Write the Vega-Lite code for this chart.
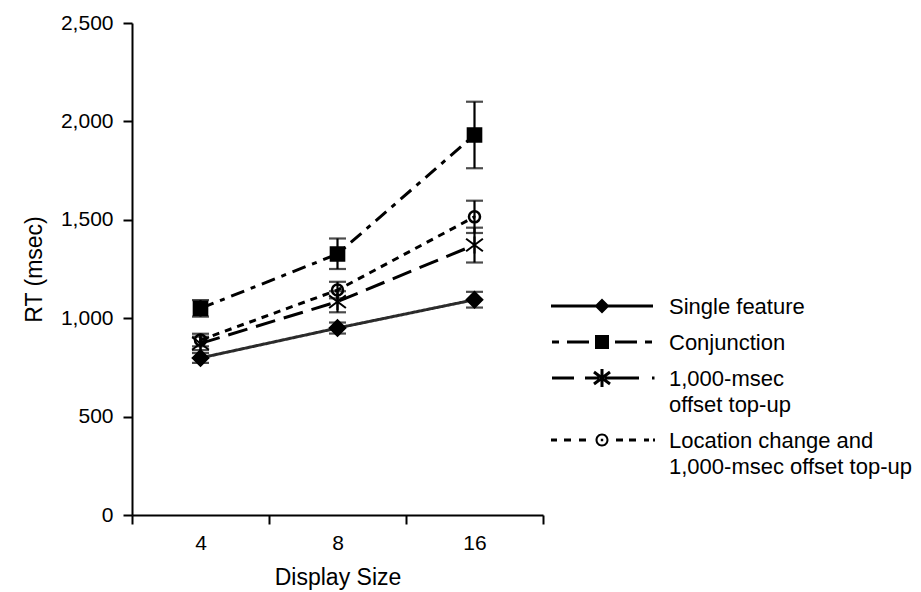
{
  "$schema": "https://vega.github.io/schema/vega-lite/v6.json",
  "width": 411,
  "height": 492,
  "autosize": {"type": "none"},
  "padding": {"left": 132, "top": 23, "right": 378, "bottom": 77},
  "background": "white",
  "config": {
    "view": {"stroke": null},
    "font": "Liberation Sans",
    "style": {"guide-label": {"lineHeight": 26}}
  },
  "data": {
    "values": [
      {"series": "Single feature", "size": "4", "rt": 798, "lo": 773, "hi": 823},
      {"series": "Single feature", "size": "8", "rt": 950, "lo": 922, "hi": 978},
      {"series": "Single feature", "size": "16", "rt": 1094, "lo": 1054, "hi": 1134},
      {"series": "Conjunction", "size": "4", "rt": 1050, "lo": 1008, "hi": 1092},
      {"series": "Conjunction", "size": "8", "rt": 1326, "lo": 1250, "hi": 1405},
      {"series": "Conjunction", "size": "16", "rt": 1931, "lo": 1762, "hi": 2100},
      {"series": "1,000-msec offset top-up", "size": "4", "rt": 872, "lo": 838, "hi": 906},
      {"series": "1,000-msec offset top-up", "size": "8", "rt": 1084, "lo": 1030, "hi": 1137},
      {"series": "1,000-msec offset top-up", "size": "16", "rt": 1372, "lo": 1283, "hi": 1460},
      {"series": "Location change and 1,000-msec offset top-up", "size": "4", "rt": 889, "lo": 857, "hi": 921},
      {"series": "Location change and 1,000-msec offset top-up", "size": "8", "rt": 1143, "lo": 1101, "hi": 1185},
      {"series": "Location change and 1,000-msec offset top-up", "size": "16", "rt": 1515, "lo": 1433, "hi": 1597}
    ]
  },
  "encoding": {
    "x": {
      "field": "size",
      "type": "ordinal",
      "sort": ["4", "8", "16"],
      "scale": {"type": "band", "paddingInner": 0, "paddingOuter": 0},
      "axis": {
        "title": "Display Size",
        "tickBand": "extent",
        "tickSize": 9,
        "tickWidth": 2,
        "tickColor": "black",
        "domainColor": "black",
        "domainWidth": 2,
        "labelAngle": 0,
        "labelFontSize": 21,
        "labelColor": "black",
        "labelPadding": 8,
        "titleFontSize": 23,
        "titleFontWeight": "normal",
        "titleColor": "black",
        "titlePadding": 13
      }
    },
    "y": {
      "field": "rt",
      "type": "quantitative",
      "scale": {"domain": [0, 2500], "nice": false, "zero": true},
      "axis": {
        "title": "RT (msec)",
        "values": [0, 500, 1000, 1500, 2000, 2500],
        "format": ",d",
        "grid": false,
        "tickSize": 9,
        "tickWidth": 2,
        "tickColor": "black",
        "domainColor": "black",
        "domainWidth": 2,
        "labelFontSize": 21,
        "labelColor": "black",
        "labelPadding": 10,
        "titleFontSize": 23,
        "titleFontWeight": "normal",
        "titleColor": "black",
        "titlePadding": 14
      }
    }
  },
  "layer": [
    {
      "mark": {"type": "line", "strokeWidth": 3},
      "encoding": {
        "strokeDash": {
          "field": "series",
          "type": "nominal",
          "scale": {
            "domain": ["Single feature", "Conjunction", "1,000-msec offset top-up", "Location change and 1,000-msec offset top-up"],
            "range": [[1, 0], [14, 7, 5, 7], [20, 9], [7, 6]]
          },
          "legend": null
        },
        "color": {
          "field": "series",
          "type": "nominal",
          "scale": {
            "domain": ["Single feature", "Conjunction", "1,000-msec offset top-up", "Location change and 1,000-msec offset top-up"],
            "range": ["#2b2b2b", "#000000", "#000000", "#000000"]
          },
          "legend": null
        }
      }
    },
    {
      "mark": {"type": "rule", "color": "black", "strokeWidth": 2.2},
      "encoding": {
        "y": {"field": "lo", "type": "quantitative"},
        "y2": {"field": "hi"}
      }
    },
    {
      "mark": {"type": "tick", "orient": "horizontal", "color": "black", "size": 17, "thickness": 2.2},
      "encoding": {"y": {"field": "lo", "type": "quantitative"}}
    },
    {
      "mark": {"type": "tick", "orient": "horizontal", "color": "black", "size": 17, "thickness": 2.2},
      "encoding": {"y": {"field": "hi", "type": "quantitative"}}
    },
    {
      "mark": {"type": "point", "filled": true, "fill": "black", "stroke": "black", "strokeWidth": 2, "size": 440, "opacity": 1},
      "encoding": {
        "shape": {
          "field": "series",
          "type": "nominal",
          "scale": {
            "domain": ["Single feature", "Conjunction", "1,000-msec offset top-up", "Location change and 1,000-msec offset top-up"],
            "range": [
              "M0,-0.75L0.75,0L0,0.75L-0.75,0Z",
              "M-0.65,-0.65H0.65V0.65H-0.65Z",
              "M-0.8,-0.6L0.8,0.6M-0.8,0.6L0.8,-0.6M0,-0.8V0.8",
              "M0.55,0A0.55,0.55 0 1,1 -0.55,0A0.55,0.55 0 1,1 0.55,0ZM0.5,0A0.5,0.5 0 1,0 -0.5,0A0.5,0.5 0 1,0 0.5,0ZM-0.1,0H0.1"
            ]
          },
          "legend": null
        }
      }
    },
    {
      "mark": {"type": "point", "filled": true, "fill": "black", "strokeWidth": 0, "size": 400, "opacity": 0},
      "encoding": {
        "shape": {
          "field": "series",
          "type": "nominal",
          "scale": {
            "domain": ["Single feature", "Conjunction", "1,000-msec offset top-up", "Location change and 1,000-msec offset top-up"],
            "range": [
              "M-5.1,-0.95H5.1V-0.65H-5.1ZM0,-1.55L0.75,-0.8L0,-0.05L-0.75,-0.8Z",
              "M-5,-0.95H-4.3V-0.65H-5ZM-3.5,-0.95H-1.3V-0.65H-3.5ZM1.3,-0.95H3.5V-0.65H1.3ZM4.3,-0.95H5V-0.65H4.3ZM-0.7,-1.5H0.7V-0.1H-0.7Z",
              "M-5,-0.95H-2.8V-0.65H-5ZM-1.7,-0.95H-0.3V-0.65H-1.7ZM0.3,-0.95H3.7V-0.65H0.3ZM5,-0.95H5.25V-0.65H5ZM-0.71,-1.52L0.89,-0.32L0.71,-0.08L-0.89,-1.28ZM-0.89,-0.32L0.71,-1.52L0.89,-1.28L-0.71,-0.08ZM-0.15,-1.7H0.15V0.1H-0.15Z",
              "M-5.1,-0.95H-4.5V-0.65H-5.1ZM-3.8,-0.95H-3.1V-0.65H-3.8ZM-2.3,-0.95H-1.6V-0.65H-2.3ZM1.4,-0.95H2.1V-0.65H1.4ZM2.7,-0.95H3.4V-0.65H2.7ZM4.2,-0.95H4.7V-0.65H4.2ZM5.1,-0.95H5.3V-0.65H5.1ZM0.65,-0.8A0.65,0.65 0 1,1 -0.65,-0.8A0.65,0.65 0 1,1 0.65,-0.8ZM0.45,-0.8A0.45,0.45 0 1,0 -0.45,-0.8A0.45,0.45 0 1,0 0.45,-0.8ZM-0.12,-0.92H0.12V-0.68H-0.12Z"
            ]
          },
          "legend": {
            "title": null,
            "orient": "none",
            "legendX": 459,
            "legendY": 280,
            "padding": 0,
            "symbolSize": 400,
            "symbolOpacity": 1,
            "symbolStrokeWidth": 0,
            "symbolFillColor": "black",
            "labelOffset": 56,
            "labelFontSize": 22,
            "labelColor": "black",
            "labelBaseline": "alphabetic",
            "labelLimit": 400,
            "rowPadding": 14,
            "labelExpr": "datum.label == '1,000-msec offset top-up' ? ['1,000-msec', 'offset top-up'] : datum.label == 'Location change and 1,000-msec offset top-up' ? ['Location change and', '1,000-msec offset top-up'] : datum.label"
          }
        }
      }
    }
  ],
  "resolve": {"scale": {"shape": "independent", "color": "independent", "strokeDash": "independent"}}
}
